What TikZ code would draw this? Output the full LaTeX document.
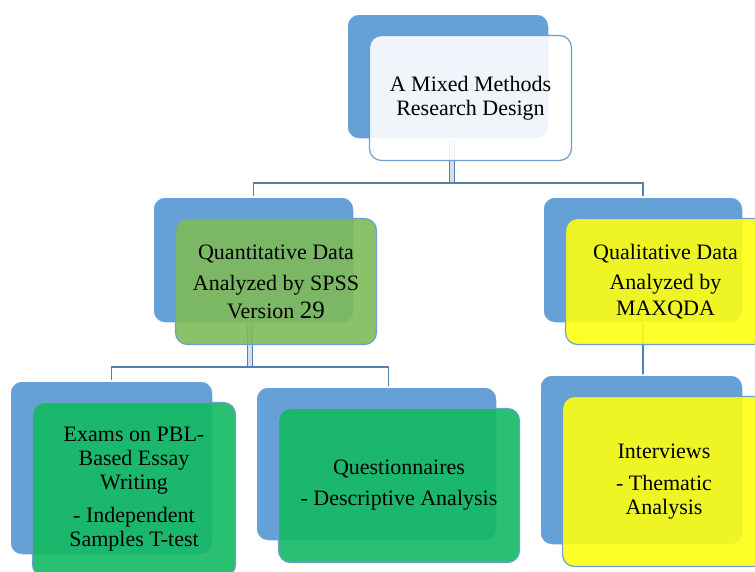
\documentclass[tikz,border=0pt]{standalone}
\usepackage{fontspec}
\setmainfont{Liberation Serif}
\newfontfamily\boxserif{Liberation Serif}
\usetikzlibrary{backgrounds}
\definecolor{backblue}{RGB}{101,161,215}
\definecolor{edgeblue}{RGB}{110,158,206}
\definecolor{linkblue}{RGB}{84,128,174}
\definecolor{quangreen}{RGB}{126,186,88}
\definecolor{datagreen}{RGB}{18,186,98}
\definecolor{qualyellow}{RGB}{255,255,18}
\newcommand{\boxfont}{\boxserif\fontsize{22}{24}\selectfont}
\tikzset{
    backbox/.style={draw=white, line width=1.5pt, fill=backblue, rounded corners=12pt, inner sep=0pt},
    frontbox/.style={draw=edgeblue, line width=1.2pt, rounded corners=12pt, fill opacity=0.9,
        text opacity=1, inner sep=0pt, align=center, font=\boxfont},
    link/.style={draw=linkblue, line width=1.6pt},
    stem/.style={draw=linkblue, line width=1pt, double=white!75!linkblue, double distance=4pt}
}
% name, x, y, width, height, colour, text
\newcommand{\layerBox}[7]{
    \node[backbox, minimum width=#4pt, minimum height=#5pt] (#1B) at (#2,#3) {};
    \node[frontbox, fill=#6, minimum width=#4pt, minimum height=#5pt] (#1F)
        at ([shift={(22.5,21.5)}]#1B.center) {#7};
}

\begin{document}
\begin{tikzpicture}[x=1pt, y=-1pt]
    \useasboundingbox (0,0) rectangle (755,571);

    \layerBox{mm}{448}{76.5}{202}{125}{white}{A Mixed Methods\\Research Design};

    \layerBox{quan}{253.5}{260}{201}{126}{quangreen}
        {Quantitative Data\\[7pt]Analyzed by SPSS\\[4pt]Version {\fontsize{25}{24}\selectfont 29}};
    \layerBox{qual}{643}{260}{200}{126}{qualyellow}
        {Qualitative Data\\[6pt]Analyzed by\\[2pt]MAXQDA};

    \layerBox{exam}{111.5}{468}{203}{174}{datagreen}
        {Exams on PBL-\\Based Essay\\Writing\\[9pt]- Independent\\Samples T-test};
    \layerBox{quest}{376.5}{464}{241}{154}{datagreen}
        {Questionnaires\\[7pt]- Descriptive Analysis};
    \layerBox{int}{641.5}{460}{203}{170}{qualyellow}
        {Interviews\\[8pt]- Thematic\\Analysis};

    \coordinate (topjoin) at (452,183);
    \coordinate (quanjoin) at (250,367);

    \begin{scope}[on background layer]
        \draw[stem] ([xshift=4pt]mmB.center) -- (topjoin);
        \draw[link] (quanB) |- (topjoin) -| (qualB);

        \draw[stem] ([xshift=-3.5pt]quanB.center) -- (quanjoin);
        \draw[link] (examB) |- (quanjoin) -| ([xshift=12pt]questB.center);

        \draw[link] (qualB) -- (qualB |- intB);
    \end{scope}
\end{tikzpicture}
\end{document}
